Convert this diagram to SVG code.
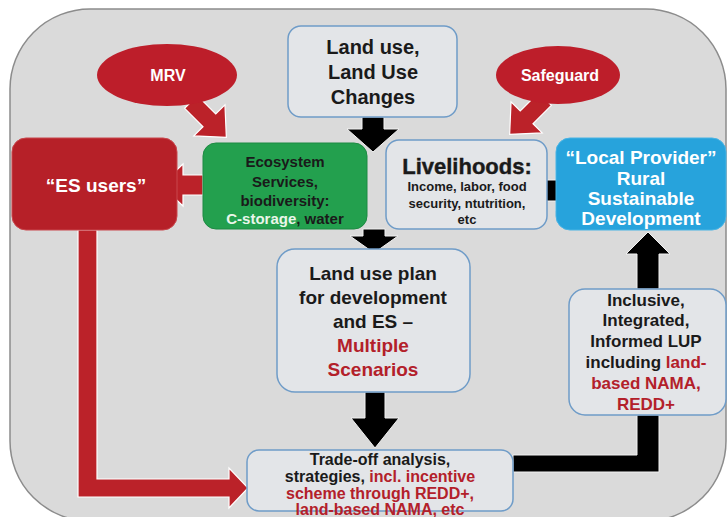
<svg xmlns="http://www.w3.org/2000/svg" xmlns:xlink="http://www.w3.org/1999/xlink" width="728" height="517" viewBox="0 0 728 517">
<style>
text{font-family:"Liberation Sans",Arial,sans-serif;font-weight:bold;text-anchor:middle;fill:#1a1a1a}
.light{fill:#e3e5e8;stroke:#6f9cc8;stroke-width:1.5}
.red{fill:#bb2229;stroke:#fff;stroke-width:1.2}
.blk{fill:#000;stroke:#f2f2f2;stroke-width:1}
.rt{fill:#b3202a}
.wt{fill:#fff}
</style>
<defs>
<polygon id="diagArrow" points="0,-9 26,-9 26,-22 50,0 26,22 26,9 0,9"/>
</defs>
<rect x="10" y="9" width="716" height="512" rx="80" ry="80" fill="#dadada" stroke="#8c8c8c" stroke-width="1.5"/>

<g id="connectors">
<use xlink:href="#diagArrow" class="red" transform="translate(191,102) rotate(45)"/>
<use xlink:href="#diagArrow" class="red" transform="translate(545,99) rotate(135)"/>
<polygon class="red" points="203,175 183,175 183,164 161,185 183,206 183,195 203,195"/>
<polygon class="red" points="78,230 97,230 97,479 229,479 229,468 248,488 229,508 229,497 78,497"/>
<polygon class="blk" points="362,117 384,117 384,129 399,129 373,152 347,129 362,129"/>
<polygon class="blk" points="363,229 385,229 385,236 398,236 374,253 350,236 363,236"/>
<polygon class="blk" points="365,392 385,392 385,418 399,418 375,448 351,418 365,418"/>
<polygon class="blk" points="537,180 556,180 556,170 575,190.5 556,211 556,201 537,201"/>
<polygon class="blk" points="637,289 659,289 659,254 670,254 648,232 626,254 637,254"/>
<polygon class="blk" points="637,415 659,415 659,472 513,472 513,455 637,455"/>
</g>

<g id="mrv">
<ellipse cx="167" cy="75" rx="70" ry="31" fill="#bd1e2a"/>
<text x="168" y="81" font-size="16" class="wt">MRV</text>
</g>

<g id="safeguard">
<ellipse cx="558" cy="75" rx="62" ry="29" fill="#bd1e2a"/>
<text x="560" y="81" font-size="16" class="wt">Safeguard</text>
</g>

<g id="landuse">
<rect class="light" x="288" y="26" width="169" height="91" rx="13"/>
<text x="373" y="54" font-size="20">Land use,</text>
<text x="373" y="79" font-size="20">Land Use</text>
<text x="373" y="104" font-size="20">Changes</text>
</g>

<g id="esusers">
<rect x="12" y="138" width="165" height="92" rx="14" fill="#b62028" stroke="#c9464c" stroke-width="1"/>
<text x="96" y="192" font-size="19" class="wt">“ES users”</text>
</g>

<g id="ecosystem">
<rect x="203" y="143" width="164" height="86" rx="13" fill="#23a04e" stroke="#1d8a42" stroke-width="1"/>
<text x="285" y="167" font-size="15">Ecosystem</text>
<text x="285" y="187" font-size="15">Services,</text>
<text x="285" y="206" font-size="15">biodiversity:</text>
<text x="285" y="224" font-size="15"><tspan fill="#eaf6ea">C-storage</tspan>, water</text>
</g>

<g id="livelihoods">
<rect class="light" x="386" y="140" width="161" height="89" rx="13"/>
<text x="467" y="174" font-size="22" font-weight="normal" stroke="#1a1a1a" stroke-width="0.4">Livelihoods:</text>
<text x="467" y="191" font-size="13">Income, labor, food</text>
<text x="467" y="208" font-size="13">security, ntutrition,</text>
<text x="467" y="224" font-size="13">etc</text>
</g>

<g id="localprovider">
<rect x="556" y="138" width="170" height="92" rx="14" fill="#27a3dc" stroke="#49b4e4" stroke-width="1"/>
<text x="641" y="164" font-size="19" class="wt">“Local Provider”</text>
<text x="641" y="185" font-size="19" class="wt">Rural</text>
<text x="641" y="205" font-size="19" class="wt">Sustainable</text>
<text x="641" y="225" font-size="19" class="wt">Development</text>
</g>

<g id="landuseplan">
<rect class="light" x="277" y="249" width="193" height="143" rx="18"/>
<text x="373" y="280" font-size="19">Land use plan</text>
<text x="373" y="304" font-size="19">for  development</text>
<text x="373" y="328" font-size="19">and ES –</text>
<text x="373" y="352" font-size="19" class="rt">Multiple</text>
<text x="373" y="376" font-size="19" class="rt">Scenarios</text>
</g>

<g id="inclusive">
<rect class="light" x="569" y="289" width="157" height="126" rx="16"/>
<text x="646" y="306" font-size="17">Inclusive,</text>
<text x="646" y="326" font-size="17">Integrated,</text>
<text x="646" y="347" font-size="17">Informed LUP</text>
<text x="646" y="368" font-size="17">including <tspan class="rt">land-</tspan></text>
<text x="646" y="389" font-size="17" class="rt">based NAMA,</text>
<text x="646" y="410" font-size="17" class="rt">REDD+</text>
</g>

<g id="tradeoff">
<rect class="light" x="247" y="450" width="266" height="61" rx="12"/>
<text x="380" y="465" font-size="16">Trade-off analysis,</text>
<text x="380" y="482" font-size="16">strategies, <tspan class="rt">incl. incentive</tspan></text>
<text x="380" y="499" font-size="16" class="rt">scheme through REDD+,</text>
<text x="380" y="515" font-size="16" class="rt">land-based NAMA, etc</text>
</g>
</svg>
